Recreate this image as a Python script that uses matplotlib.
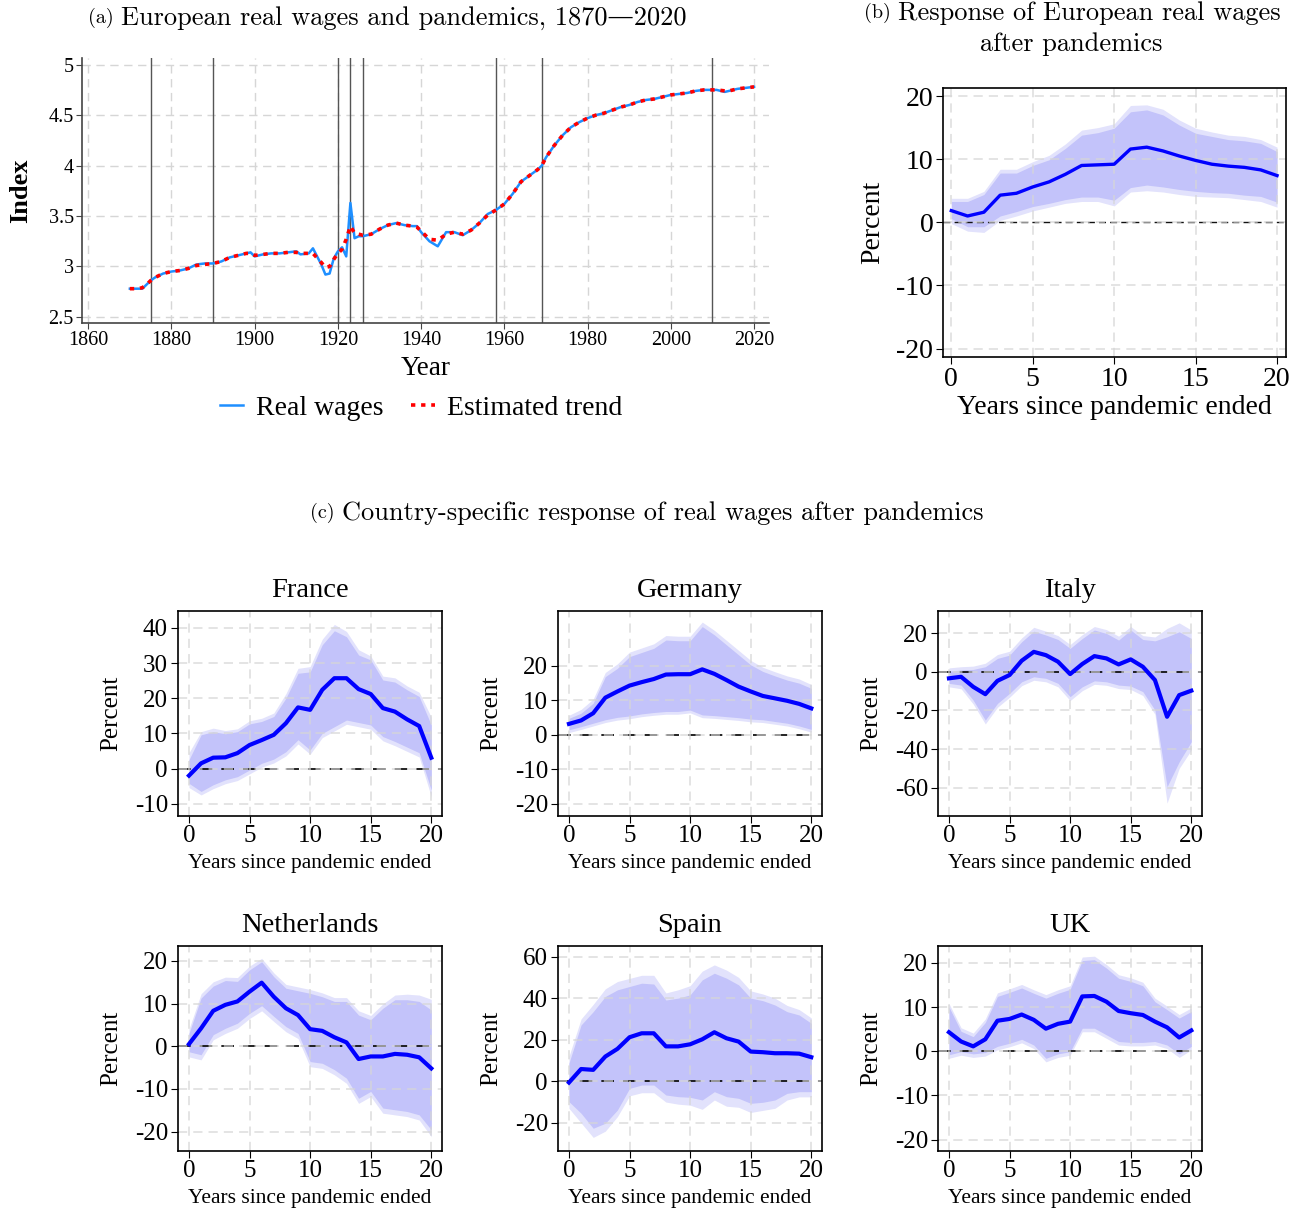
import matplotlib
matplotlib.use('Agg')
import matplotlib.pyplot as plt
from matplotlib.ticker import FuncFormatter

plt.rcParams['font.family'] = ['Liberation Serif', 'DejaVu Serif']
plt.rcParams['axes.unicode_minus'] = False

# ---------------- Panel (a) data ----------------
years = [1870, 1871, 1872, 1873, 1874, 1875, 1876, 1878, 1880, 1882, 1884, 1886, 1888,
         1890, 1892, 1894, 1896, 1898, 1899, 1900, 1902, 1904, 1906, 1908, 1910, 1911,
         1913, 1914, 1915, 1916, 1917, 1918, 1919, 1920, 1921, 1922, 1923, 1924, 1925,
         1926, 1928, 1930, 1932, 1934, 1936, 1938, 1939, 1940, 1942, 1944, 1946, 1948,
         1950, 1952, 1954, 1956, 1958, 1960, 1962, 1964, 1966, 1968, 1969, 1970, 1972,
         1974, 1976, 1978, 1980, 1982, 1984, 1986, 1988, 1990, 1992, 1994, 1996, 1998,
         2000, 2002, 2004, 2006, 2008, 2010, 2011, 2013, 2014, 2016, 2018, 2020]
real_wages = [2.78, 2.78, 2.78, 2.78, 2.82, 2.86, 2.89, 2.93, 2.95, 2.96, 2.98, 3.02, 3.03,
              3.03, 3.05, 3.09, 3.11, 3.13, 3.14, 3.10, 3.12, 3.13, 3.13, 3.14, 3.15, 3.12,
              3.13, 3.18, 3.10, 3.02, 2.92, 2.93, 3.08, 3.15, 3.19, 3.10, 3.63, 3.28, 3.30,
              3.30, 3.32, 3.37, 3.41, 3.43, 3.41, 3.40, 3.40, 3.34, 3.25, 3.20, 3.34, 3.34,
              3.31, 3.36, 3.43, 3.52, 3.56, 3.62, 3.72, 3.84, 3.90, 3.96, 4.00, 4.08, 4.20,
              4.30, 4.38, 4.43, 4.47, 4.50, 4.52, 4.55, 4.58, 4.60, 4.63, 4.65, 4.66, 4.68,
              4.70, 4.71, 4.72, 4.74, 4.75, 4.75, 4.75, 4.73, 4.74, 4.76, 4.77, 4.78]
trend = [2.78, 2.78, 2.78, 2.79, 2.82, 2.86, 2.89, 2.93, 2.95, 2.96, 2.98, 3.01, 3.02,
         3.03, 3.05, 3.09, 3.11, 3.13, 3.13, 3.11, 3.12, 3.13, 3.13, 3.14, 3.14, 3.13,
         3.13, 3.13, 3.085, 3.04, 2.99, 3.00, 3.07, 3.13, 3.17, 3.27, 3.40, 3.33, 3.32,
         3.31, 3.32, 3.37, 3.41, 3.43, 3.41, 3.40, 3.39, 3.35, 3.27, 3.26, 3.32, 3.34,
         3.32, 3.36, 3.43, 3.51, 3.56, 3.62, 3.72, 3.84, 3.90, 3.96, 4.00, 4.08, 4.20,
         4.30, 4.38, 4.43, 4.47, 4.50, 4.52, 4.55, 4.58, 4.60, 4.63, 4.65, 4.66, 4.68,
         4.70, 4.71, 4.72, 4.74, 4.75, 4.75, 4.75, 4.74, 4.74, 4.76, 4.77, 4.78]
pandemic_years = [1875, 1890, 1920, 1923, 1926, 1958, 1969, 2010]
year_ticks = [1860, 1880, 1900, 1920, 1940, 1960, 1980, 2000, 2020]
index_ticks = [2.5, 3, 3.5, 4, 4.5, 5]

# ---------------- Panel (b) data ----------------
horizon = list(range(21))
eu_mean = [1.85, 1.0, 1.6, 4.3, 4.6, 5.6, 6.4, 7.6, 9.0, 9.1, 9.2, 11.6, 11.9, 11.3, 10.5,
           9.8, 9.2, 8.9, 8.7, 8.3, 7.4]
eu_in_hi = [3.3, 3.3, 4.4, 7.8, 7.8, 9.0, 9.9, 11.7, 13.8, 14.2, 14.9, 17.5, 17.8, 17.0,
            15.4, 14.1, 13.6, 13.1, 12.9, 12.5, 11.2]
eu_out_hi = [3.8, 3.8, 4.9, 8.4, 8.4, 9.6, 10.6, 12.4, 14.6, 15.0, 15.6, 18.5, 18.6, 17.9,
             16.2, 14.9, 14.3, 13.8, 13.6, 13.1, 11.9]
eu_in_lo = [0.6, -0.7, -0.7, 1.0, 1.7, 2.5, 3.0, 3.6, 4.0, 4.0, 3.5, 5.5, 5.9, 5.6, 5.2,
            4.9, 4.7, 4.6, 4.3, 4.1, 3.2]
eu_out_lo = [-0.2, -1.4, -1.6, 0.3, 1.0, 1.8, 2.4, 3.0, 3.3, 3.3, 2.6, 4.8, 5.0, 4.8, 4.4,
             4.1, 4.0, 3.9, 3.6, 3.3, 2.4]

# ---------------- Panel (c) data ----------------
france_mean = [-2.0, 1.5, 3.1, 3.2, 4.4, 6.7, 8.1, 9.6, 12.9, 17.4, 16.7, 22.4, 25.7, 25.7,
               22.6, 21.2, 17.2, 16.2, 14.0, 12.1, 3.1]
france_in_hi = [2.5, 9.6, 10.5, 9.9, 10.5, 12.7, 13.4, 14.8, 20.0, 27.1, 27.5, 35.2, 39.2,
                37.5, 32.3, 30.9, 25.2, 24.6, 22.4, 20.5, 12.4]
france_out_hi = [4.5, 10.5, 11.5, 10.8, 11.3, 13.6, 14.3, 15.8, 21.3, 28.5, 29.0, 36.8, 41.0,
                 39.0, 33.8, 32.0, 26.3, 25.8, 23.5, 21.7, 14.6]
france_in_lo = [-4.2, -6.5, -4.6, -3.2, -2.3, -0.4, 1.5, 2.7, 4.8, 8.2, 5.3, 10.0, 11.9, 13.8,
                13.1, 12.4, 9.1, 7.7, 6.1, 4.5, -6.1]
france_out_lo = [-5.4, -7.5, -5.7, -4.3, -3.4, -1.5, 0.4, 1.6, 3.6, 7.0, 4.1, 8.8, 10.7, 12.6,
                 11.9, 11.2, 7.9, 6.5, 4.9, 3.3, -8.0]

germany_mean = [3.1, 4.1, 6.2, 10.7, 12.5, 14.2, 15.2, 16.1, 17.4, 17.5, 17.5, 18.9, 17.6,
                15.8, 13.9, 12.5, 11.2, 10.5, 9.8, 8.9, 7.6]
germany_in_hi = [4.7, 6.2, 9.1, 16.8, 19.2, 22.6, 23.8, 25.0, 27.4, 27.2, 27.2, 31.3, 28.9,
                 26.0, 23.1, 20.2, 18.3, 17.0, 15.8, 14.9, 13.4]
germany_out_hi = [5.6, 7.3, 10.3, 18.0, 20.5, 23.9, 25.1, 26.3, 28.7, 28.5, 28.5, 32.6, 30.2,
                  27.3, 24.4, 21.5, 19.5, 18.2, 17.0, 16.1, 14.5]
germany_in_lo = [1.4, 2.3, 3.3, 4.3, 5.0, 5.4, 6.0, 6.4, 6.7, 6.7, 7.1, 5.7, 5.5, 5.2, 4.9,
                 4.5, 4.3, 3.8, 3.3, 2.5, 1.5]
germany_out_lo = [0.6, 1.5, 2.5, 3.5, 4.2, 4.6, 5.2, 5.6, 5.9, 5.9, 6.3, 4.9, 4.7, 4.4, 4.1,
                  3.7, 3.5, 3.0, 2.5, 1.7, 0.7]

italy_mean = [-3.4, -2.6, -7.8, -11.6, -4.7, -1.7, 5.7, 10.3, 8.6, 5.2, -1.2, 4.0, 8.1, 6.9,
              3.8, 6.4, 2.6, -4.3, -23.3, -12.1, -9.8]
italy_in_hi = [0.3, 0.9, 1.2, 2.6, 6.9, 8.6, 15.5, 21.0, 19.0, 16.7, 12.1, 17.2, 21.6, 19.8,
               16.4, 21.6, 16.7, 16.0, 18.1, 20.7, 17.2]
italy_out_hi = [2.0, 2.6, 2.9, 4.4, 8.9, 10.6, 17.5, 23.0, 21.0, 18.7, 14.1, 19.2, 23.4, 21.8,
                18.4, 23.4, 18.7, 18.0, 22.4, 25.3, 21.6]
italy_in_lo = [-6.0, -6.9, -14.7, -25.0, -16.4, -11.2, -5.2, -2.6, -3.4, -6.0, -12.9, -7.8,
               -4.7, -5.2, -6.9, -7.4, -10.3, -19.8, -59.5, -46.6, -36.2]
italy_out_lo = [-7.8, -8.8, -16.7, -27.0, -18.4, -13.2, -7.2, -4.4, -5.2, -7.8, -14.9, -9.8,
                -6.5, -7.0, -8.7, -9.2, -12.3, -22.0, -68.0, -50.0, -40.5]

netherlands_mean = [0.5, 4.2, 8.3, 9.7, 10.5, 12.8, 14.9, 11.6, 8.9, 7.3, 4.0, 3.6, 2.1, 0.9,
                    -3.0, -2.4, -2.4, -1.8, -2.0, -2.6, -5.2]
netherlands_in_hi = [3.0, 11.3, 14.1, 15.4, 15.2, 17.9, 19.8, 16.3, 13.6, 13.0, 12.4, 11.6,
                     10.5, 10.5, 7.3, 6.2, 8.9, 10.9, 10.9, 10.5, 8.5]
netherlands_out_hi = [4.0, 12.3, 15.1, 16.2, 16.1, 18.8, 20.6, 17.2, 14.5, 13.9, 13.3, 12.5,
                      11.4, 11.4, 8.3, 7.2, 9.9, 12.0, 12.2, 12.0, 11.0]
netherlands_in_lo = [-1.3, -2.0, 2.7, 4.2, 5.4, 7.7, 9.5, 7.0, 4.6, 3.0, -3.6, -4.0, -5.5,
                     -7.5, -12.2, -10.6, -14.5, -14.9, -15.3, -16.1, -19.6]
netherlands_out_lo = [-2.5, -3.2, 1.5, 3.0, 4.2, 6.5, 8.3, 5.8, 3.4, 1.8, -4.8, -5.2, -6.7,
                      -8.7, -13.4, -11.8, -15.7, -16.1, -16.5, -17.3, -21.2]

spain_mean = [-0.6, 5.9, 5.5, 11.9, 15.6, 21.2, 23.1, 23.1, 16.8, 16.8, 17.8, 20.2, 23.6,
              20.7, 19.1, 14.3, 14.0, 13.5, 13.5, 13.3, 11.6]
spain_in_hi = [8.7, 27.1, 33.5, 40.8, 44.0, 45.6, 47.2, 46.8, 39.1, 40.0, 41.6, 48.8, 52.0,
               49.6, 46.4, 40.0, 38.8, 36.7, 33.5, 31.9, 27.9]
spain_out_hi = [12.0, 30.0, 37.0, 44.5, 48.0, 49.5, 51.0, 51.0, 42.5, 44.0, 46.0, 53.0, 56.0,
                53.5, 50.0, 43.5, 42.0, 40.0, 36.5, 34.5, 30.5]
spain_in_lo = [-9.8, -15.4, -22.6, -20.2, -13.8, -3.4, -1.8, -1.8, -6.6, -7.4, -7.7, -9.0,
               -5.0, -7.4, -8.2, -10.6, -10.1, -9.0, -5.8, -5.0, -5.0]
spain_out_lo = [-13.0, -20.0, -27.0, -24.0, -17.0, -7.0, -5.5, -5.5, -10.0, -11.0, -11.5,
                -13.5, -9.0, -12.0, -12.5, -15.0, -14.0, -13.0, -9.0, -7.5, -7.5]

uk_mean = [4.3, 2.2, 1.1, 2.7, 6.9, 7.3, 8.3, 7.1, 5.1, 6.2, 6.7, 12.4, 12.5, 11.2, 9.1, 8.6,
           8.2, 6.7, 5.4, 3.1, 4.7]
uk_in_hi = [10.0, 4.5, 3.3, 6.5, 12.4, 13.3, 14.3, 13.1, 12.0, 13.1, 14.0, 20.5, 20.7, 18.8,
            16.5, 15.8, 14.8, 11.2, 9.4, 7.5, 9.0]
uk_out_hi = [10.8, 5.3, 4.1, 7.3, 13.2, 14.1, 15.1, 13.9, 12.8, 13.9, 14.8, 21.3, 21.5, 19.6,
             17.3, 16.6, 15.6, 12.0, 10.2, 8.3, 9.8]
uk_in_lo = [-0.8, -0.1, -0.6, -0.3, 1.1, 1.8, 2.7, 1.4, -1.6, -0.6, -0.1, 5.2, 5.2, 3.7, 2.2,
            2.0, 2.0, 2.2, 1.4, -0.6, 1.1]
uk_out_lo = [-1.6, -0.9, -1.4, -1.1, 0.3, 1.0, 1.9, 0.6, -2.4, -1.4, -0.9, 4.4, 4.4, 2.9, 1.4,
             1.2, 1.2, 1.4, 0.6, -1.4, 0.3]

country_names = ['France', 'Germany', 'Italy', 'Netherlands', 'Spain', 'UK']
horizon_ticks = [0, 5, 10, 15, 20]

# ---------------- Figure ----------------
W, H = 1303, 1209
fig = plt.figure(figsize=(W / 100, H / 100), dpi=100)


def rect(l, t, r, b):
    return [l / W, 1 - b / H, (r - l) / W, (b - t) / H]


CM = ['cmr10', 'DejaVu Serif']
GRID = '#d6d6d6'
BLUE = '#0000ff'
IN_C = '#c3c3fa'
OUT_C = '#e2e2fc'


def fig_title(tag, text, x_tag_right, y, size, tag_size):
    fig.text(x_tag_right / W, 1 - y / H, tag, family=CM, fontsize=tag_size,
             ha='right', va='center')
    fig.text((x_tag_right + 7) / W, 1 - y / H, text, family=CM, fontsize=size,
             ha='left', va='center')


# ---- (a)
axa = fig.add_axes(rect(82, 58, 769, 323))
axa.set_xlim(1858.5, 2023.6)
axa.set_ylim(2.44, 5.066)
axa.set_xticks(year_ticks)
axa.set_yticks(index_ticks)
axa.yaxis.set_major_formatter(FuncFormatter(lambda v, p: f'{v:g}'))
axa.grid(True, color=GRID, linestyle=(0, (6, 4)), linewidth=1.0)
axa.set_axisbelow(True)
for s in ['top', 'right']:
    axa.spines[s].set_visible(False)
for s in ['left', 'bottom']:
    axa.spines[s].set_color('#444444')
    axa.spines[s].set_linewidth(1.2)
for yv in pandemic_years:
    axa.axvline(yv, color='#555555', linewidth=1.0, zorder=1)
la, = axa.plot(years, real_wages, color='#1e8fff', linewidth=1.8, zorder=3,
               label='Real wages')
lb, = axa.plot(years, trend, color='#ff0000', linewidth=2.6,
               linestyle=(0, (1.2, 1.6)), zorder=4, label='Estimated trend')
axa.tick_params(labelsize=14.5, length=4, color='#444444', pad=2)
axa.set_xlabel('Year', fontsize=19.5, labelpad=4)
axa.set_ylabel('Index', fontsize=19, fontweight='bold', labelpad=12)
fig.legend(handles=[la, lb], loc='center', bbox_to_anchor=(421 / W, 1 - 408 / H),
           ncol=2, frameon=False, fontsize=20, handlelength=0.85, columnspacing=1.0,
           handletextpad=0.45)
fig_title('(a)', 'European real wages and pandemics, 1870\u20142020', 114, 18, 19, 14.5)

# ---- (b)


def irf_panel(ax, mean, in_lo, in_hi, out_lo, out_hi, lw, zlw, zdash):
    ax.fill_between(horizon, out_lo, out_hi, color=OUT_C, linewidth=0, zorder=1)
    ax.fill_between(horizon, in_lo, in_hi, color=IN_C, linewidth=0, zorder=1.1)
    ax.grid(True, color=GRID, linestyle=(0, (6, 4)), linewidth=1.1, alpha=0.85, zorder=1.5)
    ax.set_axisbelow(False)
    ax.axhline(0, color='#111111', linestyle=(0, zdash), linewidth=zlw, zorder=2)
    ax.plot(horizon, mean, color=BLUE, linewidth=lw, zorder=3, solid_joinstyle='round')
    ax.set_xticks(horizon_ticks)
    for s in ax.spines.values():
        s.set_linewidth(1.2)
        s.set_zorder(4)


axb = fig.add_axes(rect(943, 88, 1286, 357))
irf_panel(axb, eu_mean, eu_in_lo, eu_in_hi, eu_out_lo, eu_out_hi, 2.4, 1.0, (5, 3))
axb.set_xlim(-0.51, 20.55)
axb.set_ylim(-21.33, 21.27)
axb.set_yticks([-20, -10, 0, 10, 20])
axb.tick_params(labelsize=20, length=5, pad=2)
axb.set_xlabel('Years since pandemic ended', fontsize=20, labelpad=2)
axb.set_ylabel('Percent', fontsize=20, labelpad=8)
fig_title('(b)', 'Response of European real wages', 891, 13, 19, 14.5)
fig.text(1071 / W, 1 - 44 / H, 'after pandemics', family=CM, fontsize=19,
         ha='center', va='center')

# ---- (c)
fig_title('(c)', 'Country-specific response of real wages after pandemics', 335, 513, 19, 14.5)

panels = [
    ('France', france_mean, france_in_lo, france_in_hi, france_out_lo, france_out_hi,
     (-13.4, 44.9), [-10, 0, 10, 20, 30, 40]),
    ('Germany', germany_mean, germany_in_lo, germany_in_hi, germany_out_lo, germany_out_hi,
     (-23.5, 35.9), [-20, -10, 0, 10, 20]),
    ('Italy', italy_mean, italy_in_lo, italy_in_hi, italy_out_lo, italy_out_hi,
     (-74.5, 31.6), [-60, -40, -20, 0, 20]),
    ('Netherlands', netherlands_mean, netherlands_in_lo, netherlands_in_hi,
     netherlands_out_lo, netherlands_out_hi, (-24.5, 23.5), [-20, -10, 0, 10, 20]),
    ('Spain', spain_mean, spain_in_lo, spain_in_hi, spain_out_lo, spain_out_hi,
     (-33.4, 65.1), [-20, 0, 20, 40, 60]),
    ('UK', uk_mean, uk_in_lo, uk_in_hi, uk_out_lo, uk_out_hi,
     (-22.5, 23.8), [-20, -10, 0, 10, 20]),
]
lefts = [177.7, 557.7, 937.7]
widths = 264.5
rows = [(610.7, 815.7), (946, 1150.7)]

for i, (name, m, ilo, ihi, olo, ohi, ylim, yt) in enumerate(panels):
    r, c = divmod(i, 3)
    l = lefts[c]
    t, b = rows[r]
    ax = fig.add_axes(rect(l, t, l + widths, b))
    irf_panel(ax, m, ilo, ihi, olo, ohi, 3.0, 1.3, (7, 5))
    ax.set_xlim(-0.93, 20.9)
    ax.set_ylim(*ylim)
    ax.set_yticks(yt)
    ax.tick_params(labelsize=18, length=5, pad=2)
    ax.set_xlabel('Years since pandemic ended', fontsize=15.5, labelpad=5)
    ax.set_ylabel('Percent', fontsize=18, labelpad=9)
    ax.set_title(name, fontsize=20.5, pad=10)

fig.savefig('out.png', dpi=100)
